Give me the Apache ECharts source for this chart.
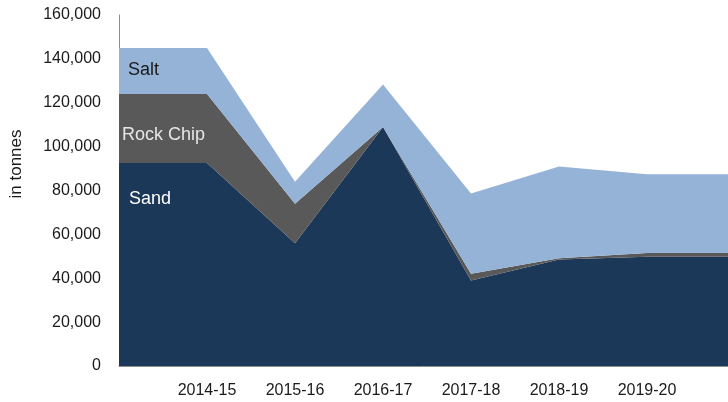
<!DOCTYPE html>
<html>
<head>
<meta charset="utf-8">
<script src="https://cdn.jsdelivr.net/npm/echarts@6/dist/echarts.min.js"></script>
<style>
html, body { margin: 0; padding: 0; background: #fff; }
#main { width: 728px; height: 402px; }
</style>
</head>
<body>
<div id="main"></div>
<script>
const chartDom = document.getElementById('main');
const myChart = echarts.init(chartDom);

// first and last blank categories carry the flat shoulders seen in the picture
const years = ['', '2014-15', '2015-16', '2016-17', '2017-18', '2018-19', '2019-20', ''];
const sand = [92500, 92500, 56000, 109000, 39000, 48600, 49800, 49800];
const rockChip = [31500, 31500, 18000, 0, 3000, 500, 1700, 1700];
const salt = [21000, 21000, 10000, 19300, 36600, 41800, 35900, 35900];
const yTicks = { min: 0, max: 160000, step: 20000 };

const font = 'Liberation Sans';

// name label on the first point of each band
function withLabel(values, text, color, offset) {
	return values.map((v, i) => {
		if (i !== 0) return v;
		return {
			value: v,
			label: {
				show: true,
				position: 'right',
				distance: 0,
				offset: offset,
				formatter: text,
				color: color,
				fontFamily: font,
				fontSize: 18
			}
		};
	});
}

function band(name, values, color, labelColor, offset) {
	return {
		type: 'line',
		name: name,
		stack: 'total',
		data: withLabel(values, name, labelColor, offset),
		showSymbol: true,
		symbol: 'circle',
		symbolSize: 0,
		lineStyle: { width: 0 },
		areaStyle: { color: color, opacity: 1 },
		itemStyle: { color: color },
		emphasis: { disabled: true },
		animation: false
	};
}

let option = {
	animation: false,
	grid: {
		left: 119,
		width: 616,
		top: 15,
		bottom: 36,
		outerBoundsMode: 'none'
	},
	xAxis: {
		type: 'category',
		data: years,
		boundaryGap: false,
		axisLine: { show: true, lineStyle: { color: '#8c8c8c', width: 1 } },
		axisTick: { show: false },
		axisLabel: {
			interval: 0,
			margin: 17,
			color: '#1a1a1a',
			fontFamily: font,
			fontSize: 16
		},
		splitLine: { show: false }
	},
	yAxis: {
		type: 'value',
		min: yTicks.min,
		max: yTicks.max,
		interval: yTicks.step,
		name: 'in tonnes',
		nameLocation: 'middle',
		nameRotate: 90,
		nameGap: 94,
		nameTextStyle: {
			color: '#1a1a1a',
			fontFamily: font,
			fontSize: 17,
			padding: [0, 0, 0, 53]
		},
		axisLine: { show: true, lineStyle: { color: '#8c8c8c', width: 1 } },
		axisTick: { show: false },
		splitLine: { show: false },
		axisLabel: {
			margin: 18,
			color: '#1a1a1a',
			fontFamily: font,
			fontSize: 16,
			formatter: (v) => v.toLocaleString('en-US')
		}
	},
	series: [
		band('Sand', sand, '#1b3858', '#ffffff', [10, 36]),
		band('Rock Chip', rockChip, '#595959', '#e6e6e6', [3, 41]),
		band('Salt', salt, '#95b3d7', '#1a1a1a', [9, 22])
	]
};

myChart.setOption(option);
</script>
</body>
</html>
